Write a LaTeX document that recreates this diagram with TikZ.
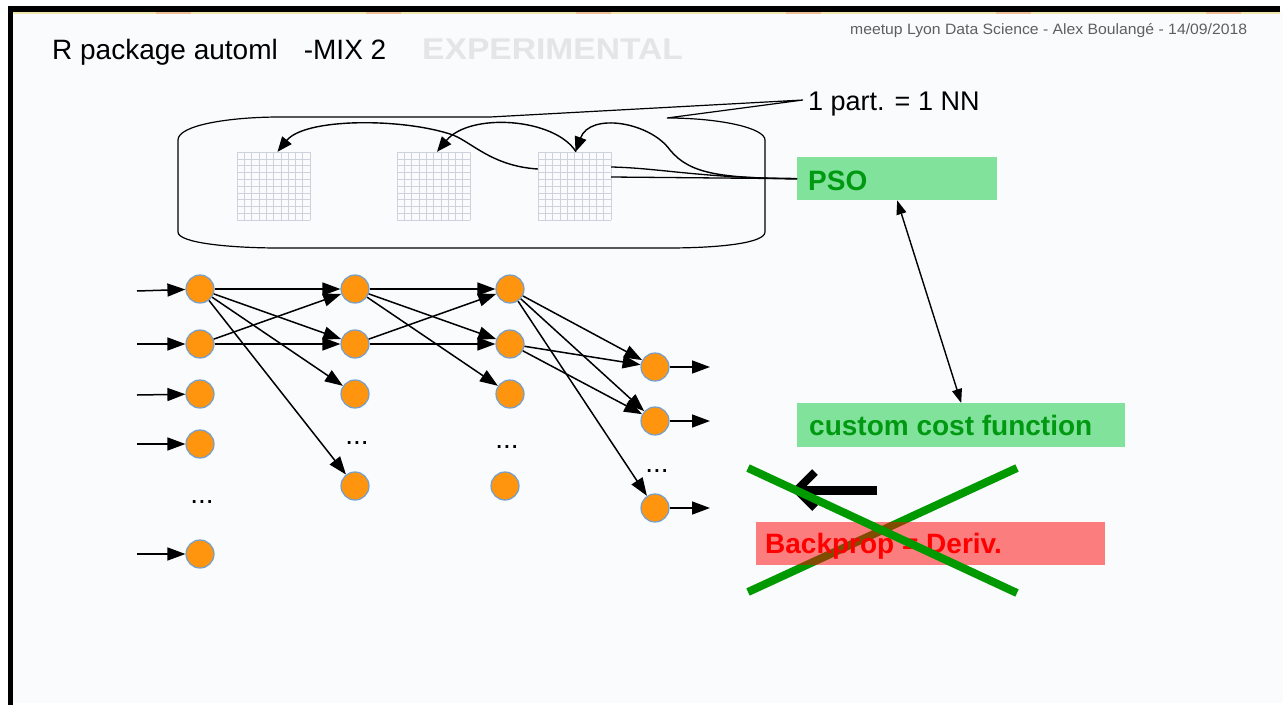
\documentclass[tikz,border=0pt]{standalone}
\usepackage{fontspec}
\setmainfont{Liberation Sans}
\usetikzlibrary{arrows.meta,calc}
\definecolor{slidebg}{RGB}{250,251,253}
\definecolor{stripy}{RGB}{240,232,170}
\definecolor{stripo}{RGB}{238,190,150}
\definecolor{gridc}{RGB}{205,210,220}
\definecolor{nodeor}{RGB}{255,149,14}
\definecolor{nodebl}{RGB}{114,159,207}
\definecolor{boxgreen}{RGB}{129,226,155}
\definecolor{txtgreen}{RGB}{0,153,17}
\definecolor{xgreen}{RGB}{0,153,0}
\definecolor{expgray}{RGB}{228,229,231}
\definecolor{meta}{RGB}{95,95,95}
\newcommand\myfs[1]{\fontsize{#1}{#1}\selectfont}
\tikzset{
  neuron/.style={circle, minimum size=28, inner sep=0, fill=nodeor, draw=nodebl, line width=1.2},
  arr/.style={-{Triangle[length=18pt,width=13pt]}, line width=1.5},
  tarr/.style={-{Triangle[length=15pt,width=12pt]}, line width=1.4},
  darr/.style={{Triangle[length=14pt,width=10pt]}-{Triangle[length=14pt,width=10pt]}, line width=1.4},
  conn/.style={line width=1.3},
  gridnode/.style={rectangle, minimum width=73, minimum height=68, inner sep=0},
  gridline/.style={draw=gridc, line width=0.6},
  dotsnode/.style={anchor=base, inner sep=0, font=\myfs{28}},
  greenbox/.style={rectangle, fill=boxgreen, inner sep=0, anchor=north west},
  boxtext/.style={anchor=base west, inner sep=0, font=\myfs{28}\bfseries},
  xline/.style={draw=xgreen, line width=8},
}
\begin{document}
\begin{tikzpicture}[x=1pt,y=-1pt]
\useasboundingbox (0,0) rectangle (1283,705);
\fill[white] (0,0) rectangle (1283,705);
\fill[slidebg] (13,12) rectangle (1283,703);
\fill[black] (8,6) rectangle (1280,12);
\fill[black] (8,6) rectangle (13,705);
\draw[stripy, line width=1.5] (13,13) -- (1280,13);
\draw[stripo, line width=1.5, dash pattern=on 35pt off 175pt, dash phase=67pt] (13,13) -- (1280,13);

% titles
\node[anchor=base west, inner sep=0, font=\myfs{28}] (title) at (52,59) {R package automl\hspace{26pt}-MIX 2};
\node[anchor=base west, inner sep=0, font=\myfs{30}\bfseries, text=expgray] (exp) at (422,59) {\scalebox{1.12}[1]{EXPERIMENTAL}};
\node[anchor=base west, inner sep=0, font=\myfs{15}, text=meta] (meta) at (850,34) {\scalebox{1.05}[1]{meetup Lyon Data Science - Alex Boulangé - 14/09/2018}};

% callout box
\draw[line width=1.2] (178,140) .. controls (178,125) and (230,117) .. (280,117) -- (490,117) -- (803,100) -- (667,118)
  .. controls (720,118) and (765,128) .. (765,140) -- (765,232)
  .. controls (765,243) and (720,248) .. (667,248) -- (280,248)
  .. controls (230,248) and (178,243) .. (178,232) -- cycle;
\node[anchor=base west, inner sep=0, font=\myfs{27}] (part) at (808,110) {1 part. = 1 NN};

% grids
\foreach \gx in {237,397,538} {
  \foreach \i in {0,...,10} {
    \draw[gridline] ({\gx+7.3*\i},152) -- ({\gx+7.3*\i},220);
    \draw[gridline] (\gx,{152+6.8*\i}) -- ({\gx+73},{152+6.8*\i});
  }
}
\node[gridnode] (g1) at (273.5,186) {};
\node[gridnode] (g2) at (433.5,186) {};
\node[gridnode] (g3) at (574.5,186) {};

% PSO box
\node[greenbox, minimum width=200, minimum height=43] (pso) at (797,157) {};
\node[boxtext, text=txtgreen] (psot) at (808,190) {PSO};

% cost function box
\node[greenbox, minimum width=328, minimum height=44] (cost) at (797,403) {};
\node[boxtext, text=txtgreen] (costt) at (809,435) {custom cost function};

% curves in box
\draw[tarr] ([yshift=17]g3.west) .. controls (490,166) and (470,140) .. (450,134) .. controls (400,118) and (305,118) .. ([xshift=4]g1.north);
\draw[tarr] ([xshift=1.5]g3.north) .. controls (555,118) and (470,112) .. ([xshift=3.5]g2.north);
\draw[tarr] (pso.west) .. controls (720,178) and (690,174) .. (670,150) .. controls (650,122) and (590,112) .. ([xshift=1]g3.north);
\draw[conn] (pso.west) -- ([yshift=9]g3.east);
\draw[conn] (pso.west) .. controls (700,178) and (660,168) .. ([yshift=19]g3.east);

\draw[darr] (pso.south) -- (cost.north);

% network
\node[neuron] (a1) at (200,289) {};
\node[neuron] (a2) at (200,344) {};
\node[neuron] (a3) at (200,394) {};
\node[neuron] (a4) at (200,444) {};
\node[neuron] (a5) at (200,554) {};
\node[dotsnode] (ad) at (202,503.5) {...};
\node[neuron] (b1) at (355,289) {};
\node[neuron] (b2) at (355,344) {};
\node[neuron] (b3) at (355,394) {};
\node[neuron] (b4) at (355,486) {};
\node[dotsnode] (bd) at (357,444) {...};
\node[neuron] (c1) at (510,289) {};
\node[neuron] (c2) at (510,344) {};
\node[neuron] (c3) at (510,394) {};
\node[neuron] (c4) at (505,486) {};
\node[dotsnode] (cd) at (507,448) {...};
\node[neuron] (d1) at (655,367) {};
\node[neuron] (d2) at (655,421) {};
\node[neuron] (d3) at (655,508) {};
\node[dotsnode] (dd) at (657,472.5) {...};

\foreach \n/\y in {a1/291,a2/344,a3/395,a4/444,a5/554} {
  \coordinate (in-\n) at (137,\y);
  \draw[arr] (in-\n) -- (\n);
}
\foreach \n/\y in {d1/367,d2/421,d3/508} {
  \coordinate (out-\n) at (710,\y);
  \draw[arr] (\n) -- (out-\n);
}
\foreach \s/\t in {a1/b1,a1/b2,a1/b3,a1/b4,a2/b1,a2/b2,b1/c1,b1/c2,b1/c3,b2/c1,b2/c2,c1/d1,c1/d2,c1/d3,c2/d1,c2/d2} {
  \draw[arr] (\s) -- (\t);
}

% crossed out part
\coordinate (x2a) at (748,592);
\coordinate (x2b) at (1017,468);
\draw[xline] (x2a) -- (x2b);
\node[rectangle, inner sep=0, anchor=north west, minimum width=349, minimum height=43, fill=red, fill opacity=0.5] (bp) at (756,522) {};
\node[boxtext, text=red] (bpt) at (765,553) {Backprop = Deriv.};
\coordinate (ka) at (877,490);
\coordinate (kb) at (800,490);
\coordinate (kt) at (797,490);
\draw[line width=9] (ka) -- (kb);
\draw[line width=8, line join=miter] (815,472) -- (kt) -- (815,508);
\coordinate (x1a) at (748,468);
\coordinate (x1b) at (1017,593);
\draw[xline] (x1a) -- (x1b);
\end{tikzpicture}
\end{document}
